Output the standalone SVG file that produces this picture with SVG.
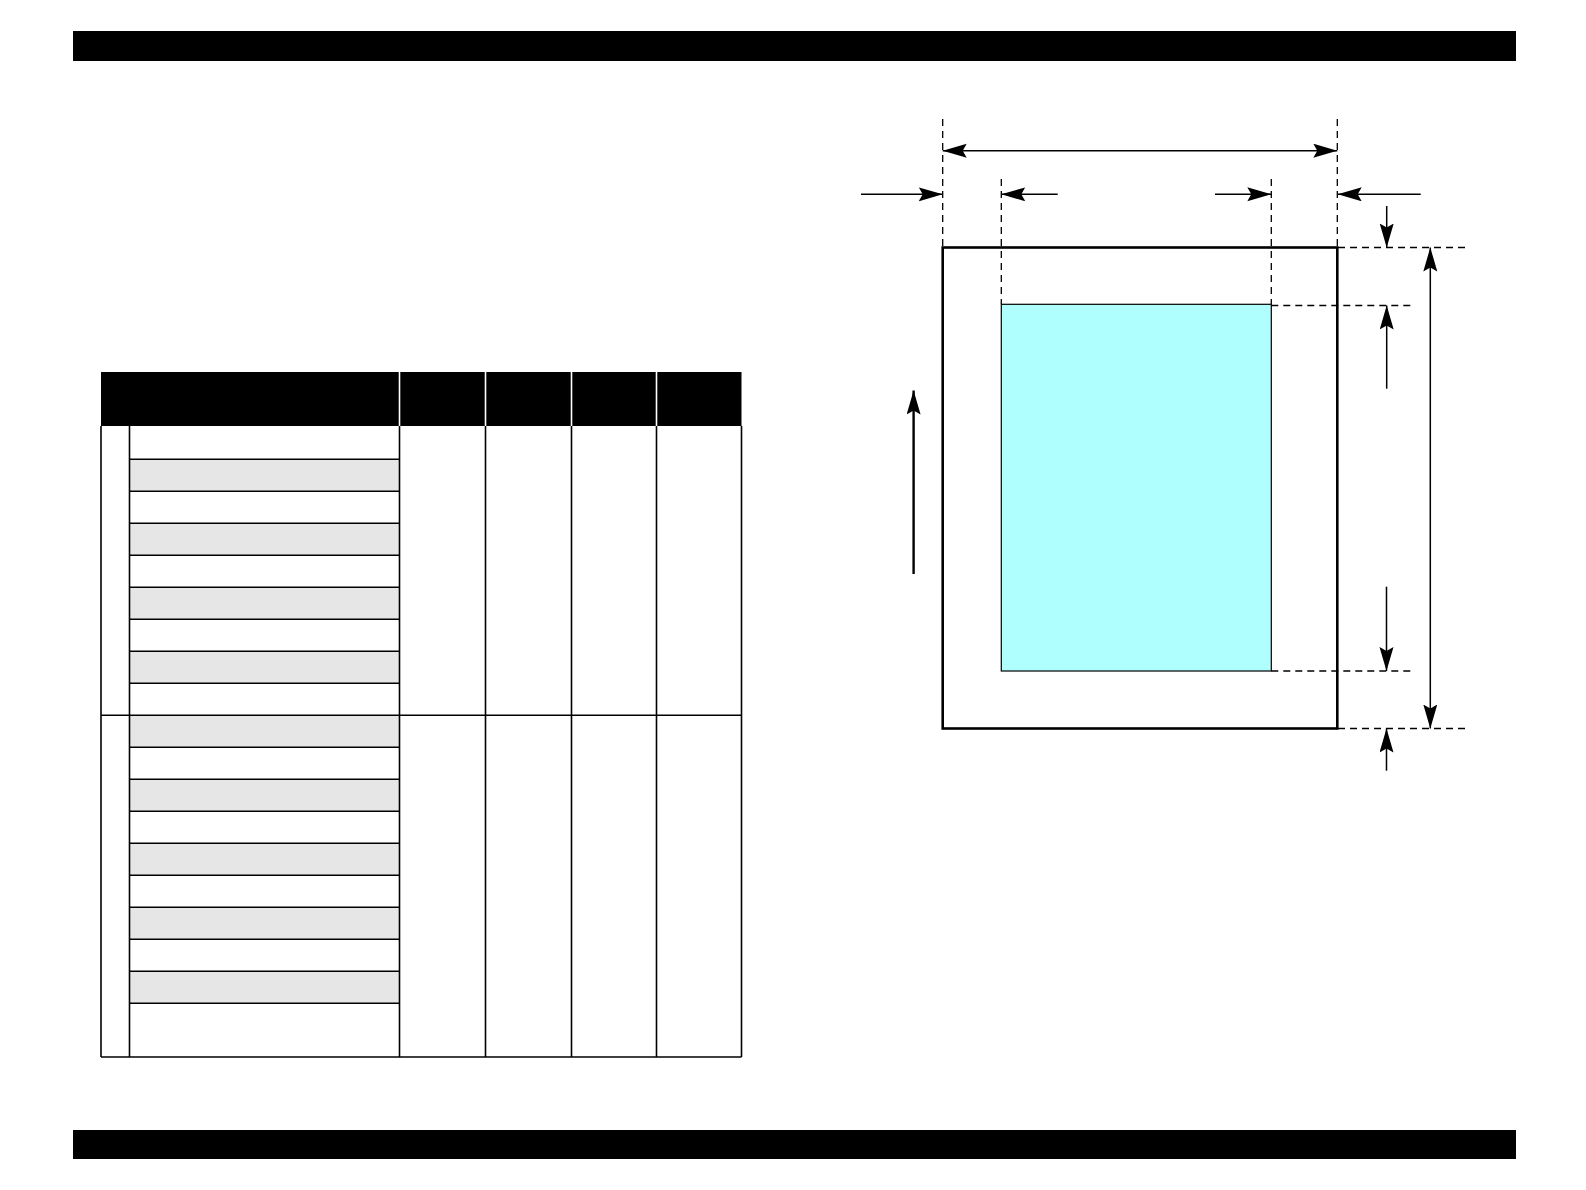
<svg xmlns="http://www.w3.org/2000/svg" width="1586" height="1190" viewBox="0 0 1586 1190">
  <style>
    .bar { fill: #000; }
    .grid { stroke: #000; stroke-width: 1.6; fill: none; }
    .hsep { stroke: #fff; stroke-width: 1.6; }
    .shade { fill: #e6e6e6; }
    .dash { stroke: #000; stroke-width: 1.3; stroke-dasharray: 7 5; fill: none; }
    .dim { stroke: #000; stroke-width: 1.5; fill: none; marker-end: url(#ah); }
    .dim2 { stroke: #000; stroke-width: 1.5; fill: none; marker-end: url(#ah); marker-start: url(#ah); }
  </style>
  <defs>
    <marker id="ah" markerUnits="userSpaceOnUse" markerWidth="26" markerHeight="16" refX="24" refY="7" orient="auto-start-reverse" viewBox="0 0 26 16">
      <path d="M0,0 L24,7 L0,14 L4,7 z" fill="#000"/>
    </marker>
  </defs>
  <rect width="1586" height="1190" fill="#fff"/>

  <g id="top-bar"><rect class="bar" x="73" y="31" width="1443" height="30"/></g>
  <g id="bottom-bar"><rect class="bar" x="73" y="1130" width="1443" height="29"/></g>

  <g id="table">
    <rect x="101" y="372" width="640.5" height="54" fill="#000"/>
    <line class="hsep" x1="399.5" y1="372" x2="399.5" y2="426"/>
    <line class="hsep" x1="485.5" y1="372" x2="485.5" y2="426"/>
    <line class="hsep" x1="571.5" y1="372" x2="571.5" y2="426"/>
    <line class="hsep" x1="656.5" y1="372" x2="656.5" y2="426"/>
    <g id="shading">
      <rect class="shade" x="129.5" y="459.2" width="270" height="32"/>
      <rect class="shade" x="129.5" y="523.2" width="270" height="32"/>
      <rect class="shade" x="129.5" y="587.2" width="270" height="32"/>
      <rect class="shade" x="129.5" y="651.2" width="270" height="32"/>
      <rect class="shade" x="129.5" y="715.2" width="270" height="32"/>
      <rect class="shade" x="129.5" y="779.2" width="270" height="32"/>
      <rect class="shade" x="129.5" y="843.2" width="270" height="32"/>
      <rect class="shade" x="129.5" y="907.2" width="270" height="32"/>
      <rect class="shade" x="129.5" y="971.2" width="270" height="32"/>
    </g>
    <g id="rules" class="grid">
      <line x1="101" y1="426" x2="101" y2="1057"/>
      <line x1="129.5" y1="426" x2="129.5" y2="1057"/>
      <line x1="399.5" y1="426" x2="399.5" y2="1057"/>
      <line x1="485.5" y1="426" x2="485.5" y2="1057"/>
      <line x1="571.5" y1="426" x2="571.5" y2="1057"/>
      <line x1="656.5" y1="426" x2="656.5" y2="1057"/>
      <line x1="741.5" y1="426" x2="741.5" y2="1057"/>
      <line x1="101" y1="1057" x2="741.5" y2="1057"/>
      <line x1="101" y1="715.2" x2="741.5" y2="715.2"/>
      <line x1="129.5" y1="459.2" x2="399.5" y2="459.2"/>
      <line x1="129.5" y1="491.2" x2="399.5" y2="491.2"/>
      <line x1="129.5" y1="523.2" x2="399.5" y2="523.2"/>
      <line x1="129.5" y1="555.2" x2="399.5" y2="555.2"/>
      <line x1="129.5" y1="587.2" x2="399.5" y2="587.2"/>
      <line x1="129.5" y1="619.2" x2="399.5" y2="619.2"/>
      <line x1="129.5" y1="651.2" x2="399.5" y2="651.2"/>
      <line x1="129.5" y1="683.2" x2="399.5" y2="683.2"/>
      <line x1="129.5" y1="747.2" x2="399.5" y2="747.2"/>
      <line x1="129.5" y1="779.2" x2="399.5" y2="779.2"/>
      <line x1="129.5" y1="811.2" x2="399.5" y2="811.2"/>
      <line x1="129.5" y1="843.2" x2="399.5" y2="843.2"/>
      <line x1="129.5" y1="875.2" x2="399.5" y2="875.2"/>
      <line x1="129.5" y1="907.2" x2="399.5" y2="907.2"/>
      <line x1="129.5" y1="939.2" x2="399.5" y2="939.2"/>
      <line x1="129.5" y1="971.2" x2="399.5" y2="971.2"/>
      <line x1="129.5" y1="1003.2" x2="399.5" y2="1003.2"/>
    </g>
  </g>

  <g id="paper">
    <rect x="942.7" y="247.5" width="394.6" height="481" fill="#fff" stroke="#000" stroke-width="2.6"/>
  </g>
  <g id="printable-area">
    <rect x="1001.3" y="304.3" width="270" height="366.7" fill="#afffff" stroke="#000" stroke-width="1.2"/>
  </g>

  <g id="connectors">
    <g id="guides" class="dash">
      <line x1="942.7" y1="119" x2="942.7" y2="246"/>
      <line x1="1337.3" y1="119" x2="1337.3" y2="246"/>
      <line x1="1001.3" y1="179" x2="1001.3" y2="304"/>
      <line x1="1271.3" y1="179" x2="1271.3" y2="304"/>
      <line x1="1338" y1="247.5" x2="1465" y2="247.5"/>
      <line x1="1271.3" y1="305.5" x2="1414" y2="305.5"/>
      <line x1="1271.3" y1="671" x2="1414" y2="671"/>
      <line x1="1338" y1="728.5" x2="1465" y2="728.5"/>
    </g>
    <line class="dim2" x1="942.7" y1="150.7" x2="1337.3" y2="150.7"/>
    <line class="dim" x1="861" y1="194.3" x2="942.7" y2="194.3"/>
    <line class="dim" x1="1057.7" y1="194.3" x2="1001.3" y2="194.3"/>
    <line class="dim" x1="1215" y1="194.3" x2="1271.3" y2="194.3"/>
    <line class="dim" x1="1420.7" y1="194.3" x2="1337.7" y2="194.3"/>
    <line class="dim" x1="1386.7" y1="206" x2="1386.7" y2="247.5"/>
    <line class="dim" x1="1386.7" y1="388.7" x2="1386.7" y2="305.5"/>
    <line class="dim" x1="1386.5" y1="586.7" x2="1386.5" y2="671"/>
    <line class="dim" x1="1386.5" y1="770.7" x2="1386.5" y2="728.5"/>
    <line class="dim2" x1="1430.3" y1="247.5" x2="1430.3" y2="728.5"/>
    <line class="dim" x1="913.6" y1="574" x2="913.6" y2="390.5" style="stroke-width:2.4"/>
  </g>
</svg>
